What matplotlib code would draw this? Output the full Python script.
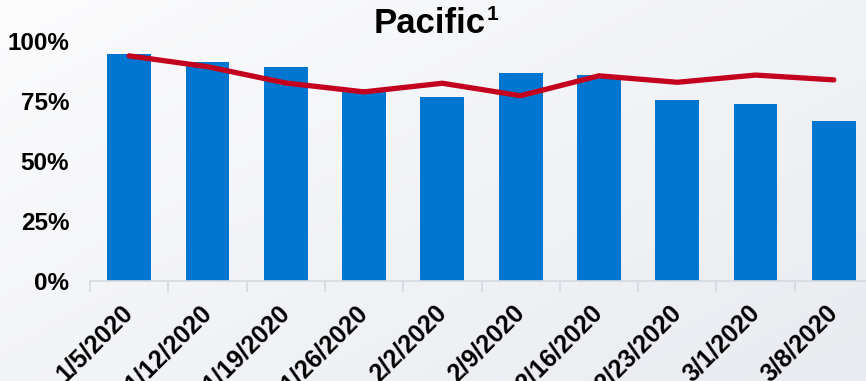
import numpy as np
import matplotlib.pyplot as plt
from matplotlib.colors import LinearSegmentedColormap
from matplotlib.ticker import FixedLocator, PercentFormatter

plt.rcParams['font.family'] = ['Liberation Sans', 'DejaVu Sans']

# weekly data
weeks = ['1/5/2020', '1/12/2020', '1/19/2020', '1/26/2020', '2/2/2020',
         '2/9/2020', '2/16/2020', '2/23/2020', '3/1/2020', '3/8/2020']
bar_vals = [94.6, 91.1, 89.0, 80.0, 76.8, 86.8, 85.7, 75.5, 73.6, 66.7]
line_vals = [93.8, 89.3, 82.5, 78.8, 82.4, 77.2, 85.5, 82.8, 85.8, 83.8]

bar_color = '#0176D0'
line_color = '#C4001F'
grid_gray = '#D6DAE0'

fig = plt.figure(figsize=(8.66, 3.81), dpi=100)

# soft light-grey background
bg = fig.add_axes([0, 0, 1, 1], zorder=-10)
yy, xx = np.mgrid[0:1:200j, 0:1:400j]
shade = 0.55 * xx + 0.45 * yy
bg.imshow(shade, cmap=LinearSegmentedColormap.from_list('bgc', ['#FCFCFD', '#E9EBF0']),
          aspect='auto', extent=[0, 1, 0, 1], origin='upper', vmin=0, vmax=1)
bg.axis('off')

ax = fig.add_axes([90 / 866, 100 / 381, 783 / 866, 240 / 381])
ax.patch.set_alpha(0)

x = np.arange(len(weeks))
ax.bar(x, bar_vals, width=0.56, color=bar_color, zorder=2)
ax.plot(x, line_vals, color=line_color, lw=3.8, solid_capstyle='round',
        solid_joinstyle='round', zorder=3)

ax.set_xlim(-0.5, len(weeks) - 0.5)
ax.set_ylim(0, 100)

for s in ['top', 'right', 'left']:
    ax.spines[s].set_visible(False)
ax.spines['bottom'].set_color(grid_gray)
ax.spines['bottom'].set_linewidth(1.2)

ax.yaxis.set_major_locator(FixedLocator([0, 25, 50, 75, 100]))
ax.yaxis.set_major_formatter(PercentFormatter(decimals=0))
ax.tick_params(axis='y', length=0, pad=15, labelsize=17.5)
for lab in ax.get_yticklabels():
    lab.set_fontweight('bold')

# category boundary ticks, labels at bar centres
ax.set_xticks(np.arange(-0.5, len(weeks), 1.0), minor=True)
ax.set_xticks(x)
ax.set_xticklabels(weeks, rotation=45, ha='right', va='center',
                   rotation_mode='anchor', fontsize=18, fontweight='bold')
ax.tick_params(axis='x', which='major', length=0, pad=20)
ax.tick_params(axis='x', which='minor', length=8, width=1.2, color=grid_gray)

fig.text(374 / 866, 1 - 33 / 381, 'Pacific', fontsize=25, fontweight='bold',
         ha='left', va='baseline')
fig.text(487 / 866, 1 - 5 / 381, '1', fontsize=15, fontweight='bold',
         ha='left', va='top')

fig.savefig('out.png', dpi=100)
